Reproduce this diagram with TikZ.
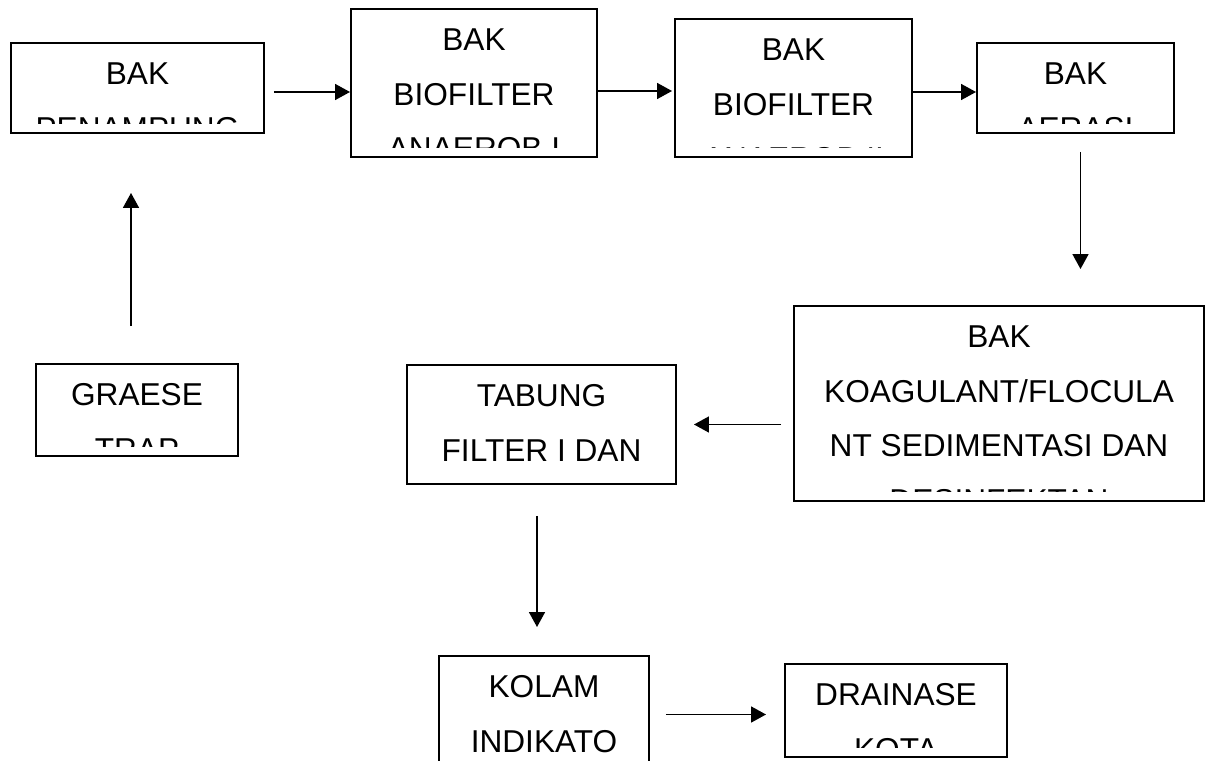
\documentclass[tikz,border=0pt]{standalone}
\usepackage{fontspec}
\setmainfont{Liberation Sans}
\usetikzlibrary{arrows.meta}

\tikzset{
  box/.style 2 args={draw, line width=1.1pt, minimum width=#1*0.02cm, minimum height=#2*0.02cm, inner sep=0pt},
  lines/.style={align=center, font=\fontsize{18}{31.2}\selectfont, inner sep=0pt, draw=none, minimum size=0pt, anchor=north},
  says/.style={path picture={
      \clip ([yshift=0.2cm]path picture bounding box.south west) rectangle (path picture bounding box.north east);
      \node[lines] at ([yshift=-0.37cm]path picture bounding box.north) {#1};
    }},
  flow/.style={-{Triangle[length=8.5pt,width=9pt]}, line width=1.1pt}
}

\begin{document}
\begin{tikzpicture}[x=0.02cm, y=-0.02cm]
        \useasboundingbox (0,0) rectangle (1209,760);
        \node[box={253}{90}, says={BAK\\PENAMPUNG}] (pen) at (137.5,88) {};
        \node[box={246}{148}, says={BAK\\BIOFILTER\\ANAEROB I}] (bio1) at (474,83) {};
        \node[box={237}{138}, says={BAK\\BIOFILTER\\ANAEROB II}] (bio2) at (793.5,88) {};
        \node[box={197}{90}, says={BAK\\AERASI}] (aer) at (1075.5,88) {};
        \node[box={410}{195}, says={BAK\\KOAGULANT/FLOCULA\\NT SEDIMENTASI DAN\\DESINFEKTAN}] (koa) at (999,403.5) {};
        \node[box={269}{119}, says={TABUNG\\FILTER I DAN}] (tab) at (541.5,424.5) {};
        \node[box={202}{92}, says={GRAESE\\TRAP}] (gra) at (137,410) {};
        \node[box={210}{116}, says={KOLAM\\INDIKATO}] (kol) at (544,714) {};
        \node[box={222}{93}, says={DRAINASE\\KOTA}] (dra) at (896,710.5) {};

        \draw[flow, shorten <=0.74cm, shorten >=1.18cm] ([xshift=-0.12cm]gra.north) -- ([xshift=-0.12cm]gra.north |- pen.south);
        \draw[flow, shorten <=0.18cm] ([yshift=-0.08cm]pen.east) -- ([yshift=-0.08cm]pen.east -| bio1.west);
        \draw[flow, shorten >=0.04cm] ([yshift=-0.16cm]bio1.east) -- ([yshift=-0.16cm]bio1.east -| bio2.west);
        \draw[flow] ([yshift=-0.08cm]bio2.east) -- ([yshift=-0.08cm]bio2.east -| aer.west);
        \draw[flow, shorten <=0.36cm, shorten >=0.72cm] ([xshift=0.1cm]aer.south) -- ([xshift=0.1cm]aer.south |- koa.north);
        \draw[flow, shorten <=0.24cm, shorten >=0.34cm] (koa.west |- tab.east) -- (tab.east);
        \draw[flow, shorten <=0.62cm, shorten >=0.56cm] ([xshift=-0.09cm]tab.south) -- ([xshift=-0.09cm]tab.south |- kol.north);
        \draw[flow, shorten <=0.32cm, shorten >=0.36cm] ([yshift=-0.08cm]dra.west -| kol.east) -- ([yshift=-0.08cm]dra.west);
    \end{tikzpicture}
\end{document}
